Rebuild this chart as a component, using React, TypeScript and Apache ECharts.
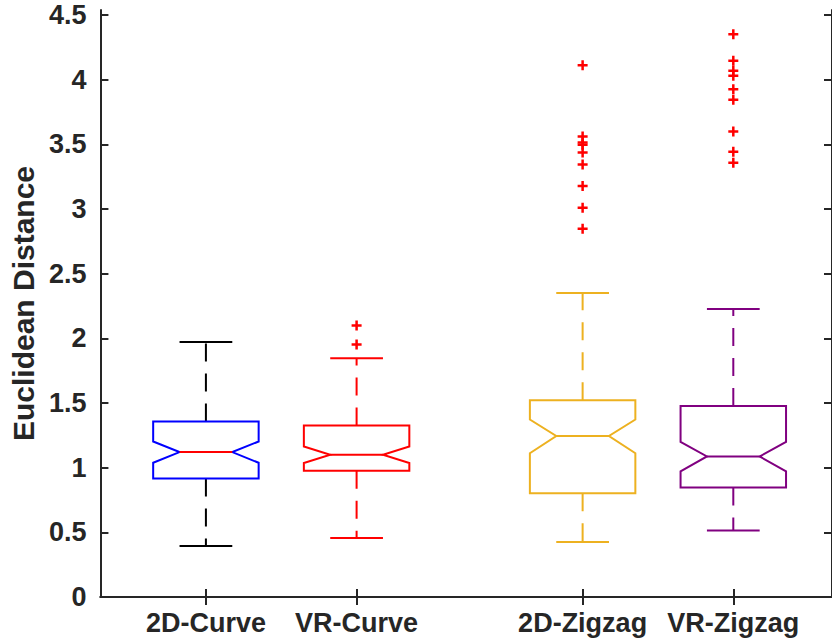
import React, { useEffect, useRef } from "react";
import * as echarts from "echarts";

// Groups and where they sit on the x axis
const groups = ["2D-Curve", "VR-Curve", "2D-Zigzag", "VR-Zigzag"];
const positions = [1, 2, 3.5, 4.5];

// Box statistics per group
const lowerWhisker = [0.395, 0.457, 0.426, 0.514];
const q1 = [0.917, 0.976, 0.803, 0.847];
const notchLow = [1.038, 1.036, 1.112, 0.971];
const median = [1.121, 1.1, 1.245, 1.087];
const notchHigh = [1.203, 1.164, 1.373, 1.2];
const q3 = [1.358, 1.327, 1.521, 1.477];
const upperWhisker = [1.973, 1.846, 2.352, 2.228];

// Outliers per group
const outliers2DCurve: number[] = [];
const outliersVRCurve = [2.1, 1.952];
const outliers2DZigzag = [4.113, 3.561, 3.515, 3.497, 3.437, 3.346, 3.178, 3.011, 2.848];
const outliersVRZigzag = [4.353, 4.147, 4.07, 4.031, 3.928, 3.845, 3.6, 3.444, 3.359];
const outlierLists = [outliers2DCurve, outliersVRCurve, outliers2DZigzag, outliersVRZigzag];

// Y tick values
const yTicks = [0, 0.5, 1, 1.5, 2, 2.5, 3, 3.5, 4, 4.5];

const boxColors = ["#0000FF", "#FF0000", "#EDB120", "#800080"];
const medianColors = ["#FF0000", "#FF0000", "#EDB120", "#800080"];
const whiskerColors = ["#000000", "#FF0000", "#EDB120", "#800080"];

const FONT = "'Liberation Sans', Arial, Helvetica, sans-serif";
const AXIS_COLOR = "#262626";
const PLUS = "path://M3.75,0H6.25V3.75H10V6.25H6.25V10H3.75V6.25H0V3.75H3.75Z";

export default function App() {
  const ref = useRef<HTMLDivElement>(null);

  useEffect(() => {
    if (!ref.current) return;
    const chart = echarts.init(ref.current, undefined, { renderer: "svg" });

    const boxData = groups.map((_, i) => [
      positions[i],
      lowerWhisker[i],
      q1[i],
      notchLow[i],
      median[i],
      notchHigh[i],
      q3[i],
      upperWhisker[i],
      i,
    ]);

    const outlierData: number[][] = [];
    outlierLists.forEach((list, i) => {
      list.forEach((v) => outlierData.push([positions[i], v]));
    });

    const halfBox = 0.35;
    const halfInner = 0.175;

    const renderItem = (params: any, api: any) => {
      const x = api.value(0);
      const idx = api.value(8);
      const p = (xv: number, yv: number) => api.coord([xv, yv]);
      const lw = api.value(1);
      const b1 = api.value(2);
      const nLo = api.value(3);
      const med = api.value(4);
      const nHi = api.value(5);
      const b3 = api.value(6);
      const uw = api.value(7);
      const L = x - halfBox;
      const R = x + halfBox;
      const Li = x - halfInner;
      const Ri = x + halfInner;
      const bc = boxColors[idx];
      const mc = medianColors[idx];
      const wc = whiskerColors[idx];
      const dash = [18, 12];
      const lineW = 2;
      const seg = (a: number[], b: number[], color: string, dashed = false) => ({
        type: "line",
        shape: { x1: a[0], y1: a[1], x2: b[0], y2: b[1] },
        style: { stroke: color, lineWidth: lineW, lineDash: dashed ? dash : null, fill: null },
      });
      return {
        type: "group",
        children: [
          // whiskers
          seg(p(x, b3), p(x, uw), wc, true),
          seg(p(x, b1), p(x, lw), wc, true),
          // caps
          seg(p(Li, uw), p(Ri, uw), wc),
          seg(p(Li, lw), p(Ri, lw), wc),
          // notched box
          {
            type: "polygon",
            shape: {
              points: [
                p(L, b3),
                p(R, b3),
                p(R, nHi),
                p(Ri, med),
                p(R, nLo),
                p(R, b1),
                p(L, b1),
                p(L, nLo),
                p(Li, med),
                p(L, nHi),
              ],
            },
            style: { stroke: bc, lineWidth: lineW, fill: "none", lineJoin: "miter" },
          },
          // median
          seg(p(Li, med), p(Ri, med), mc),
        ],
      };
    };

    const labelStyle = {
      color: AXIS_COLOR,
      fontFamily: FONT,
      fontWeight: "bold" as const,
      fontSize: 27,
    };

    chart.setOption({
      animation: false,
      backgroundColor: "#ffffff",
      grid: { left: 95, top: 10, width: 738, height: 587 },
      xAxis: [
        {
          type: "value",
          min: 0.3,
          max: 5.155,
          position: "bottom",
          axisLine: { show: true, lineStyle: { color: AXIS_COLOR, width: 2 } },
          axisTick: {
            show: true,
            inside: true,
            length: 8,
            customValues: positions,
            lineStyle: { color: AXIS_COLOR, width: 2 },
          },
          axisLabel: {
            ...labelStyle,
            margin: 12,
            customValues: positions,
            formatter: (v: number) => {
              const i = positions.findIndex((q) => Math.abs(q - v) < 1e-6);
              return i >= 0 ? groups[i] : "";
            },
          },
          splitLine: { show: false },
        },
        {
          type: "value",
          min: 0.3,
          max: 5.155,
          position: "top",
          axisLine: { show: true, lineStyle: { color: AXIS_COLOR, width: 2 } },
          axisTick: {
            show: true,
            inside: true,
            length: 8,
            customValues: positions,
            lineStyle: { color: AXIS_COLOR, width: 2 },
          },
          axisLabel: { show: false },
          splitLine: { show: false },
        },
      ],
      yAxis: [
        {
          type: "value",
          min: 0,
          max: 4.54,
          position: "left",
          name: "Euclidean Distance",
          nameLocation: "middle",
          nameGap: 54,
          nameTextStyle: {
            color: AXIS_COLOR,
            fontFamily: FONT,
            fontWeight: "bold",
            fontSize: 30,
          },
          axisLine: { show: true, lineStyle: { color: AXIS_COLOR, width: 2 } },
          axisTick: {
            show: true,
            inside: true,
            length: 8,
            customValues: yTicks,
            lineStyle: { color: AXIS_COLOR, width: 2 },
          },
          axisLabel: {
            ...labelStyle,
            margin: 14,
            customValues: yTicks,
            formatter: (v: number) => String(v),
          },
          splitLine: { show: false },
        },
        {
          type: "value",
          min: 0,
          max: 4.54,
          position: "right",
          axisLine: { show: true, lineStyle: { color: AXIS_COLOR, width: 2 } },
          axisTick: {
            show: true,
            inside: true,
            length: 8,
            customValues: yTicks,
            lineStyle: { color: AXIS_COLOR, width: 2 },
          },
          axisLabel: { show: false },
          splitLine: { show: false },
        },
      ],
      series: [
        {
          type: "custom",
          xAxisIndex: 0,
          yAxisIndex: 0,
          renderItem,
          data: boxData,
          encode: { x: 0, y: [1, 7] },
          clip: false,
        },
        {
          type: "scatter",
          xAxisIndex: 0,
          yAxisIndex: 0,
          symbol: PLUS,
          symbolSize: 10,
          itemStyle: { color: "#FF0000", opacity: 1 },
          data: outlierData,
        },
      ],
    });

    return () => chart.dispose();
  }, []);

  return (
    <div
      ref={ref}
      style={{
        position: "fixed",
        left: 0,
        top: 0,
        width: 832,
        height: 640,
        background: "#ffffff",
      }}
    />
  );
}
